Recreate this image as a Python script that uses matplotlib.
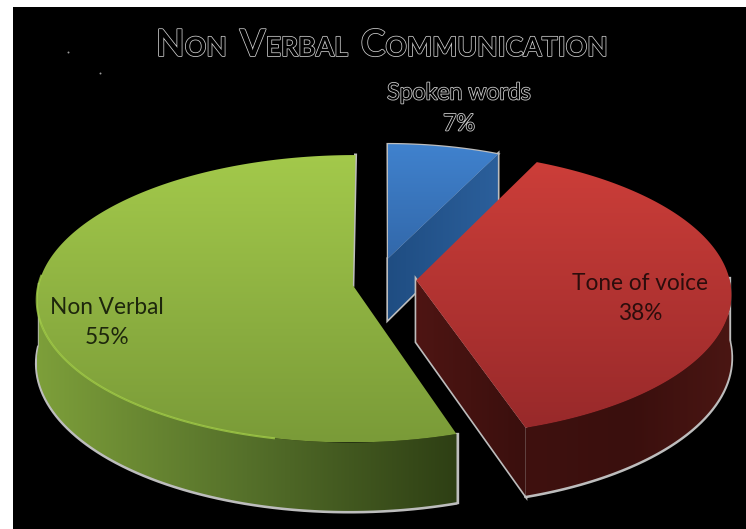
import numpy as np
import matplotlib
matplotlib.use("Agg")
import matplotlib.pyplot as plt
import matplotlib.patheffects as pe
from matplotlib.colors import LinearSegmentedColormap
from matplotlib.patches import Polygon, Rectangle

# chart values, counter-clockwise from twelve o'clock
labels = ["Non Verbal", "Tone of voice", "Spoken words"]
shares = [55, 38, 7]

top_colors = [("#a3c94b", "#7a9b38"), ("#cc3e39", "#98292a"), ("#4082ce", "#3268aa")]
wall_colors = [("#7d9f3a", "#55702a", "#2e3f14"), ("#3f110f", "#3a0f0d", "#4a1613"), None]
face_colors = [None, ("#4e1513", "#3a0f0d"), ("#1f4d82", "#2b5f9b")]

# slice placement on the disc, in units of the disc radius
offset_x = [-0.099, 0.103, 0.013]
offset_y = [-0.016, 0.020, 0.176]
radius = [1.0, 1.0, 0.90]
draw_order = [2, 0, 1]

# view of the disc
CX, CY = 384, 283
A, B = 314, 142
PERSP = 0.0935
THICK = 62
GREY = "#bdbdbd"

plt.rcParams["font.family"] = ["Lato", "DejaVu Sans"]


def project(x, y, z=0.0):
    s = 1.0 / (1.0 + PERSP * np.asarray(y))
    return CX + A * np.asarray(x) * s, CY - B * np.asarray(y) * s + THICK * z * s


def gradient_fill(ax, xs, ys, colors, horizontal, zorder):
    # paint a gradient and clip it to the polygon
    pts = np.column_stack([xs, ys])
    cmap = LinearSegmentedColormap.from_list("g", list(colors))
    ramp = np.linspace(0, 1, 256)
    ramp = ramp[None, :] if horizontal else ramp[:, None]
    extent = (pts[:, 0].min(), pts[:, 0].max(), pts[:, 1].max(), pts[:, 1].min())
    im = ax.imshow(ramp, cmap=cmap, extent=extent, aspect="auto", zorder=zorder,
                   origin="upper", interpolation="bilinear")
    im.set_clip_path(Polygon(pts, closed=True, transform=ax.transData))


def small_caps(ax, fig, words, x, y, big, small, track, zorder):
    # one text per run, advancing by the measured width
    renderer = fig.canvas.get_renderer()
    effects = [pe.withStroke(linewidth=1.1, foreground="#d0d0d0")]
    for word in words:
        for run, size in ((word[0], big), (word[1:].upper(), small)):
            t = ax.text(x, y, run, fontsize=size, color="black", va="baseline", ha="left",
                        fontweight="bold", path_effects=effects, zorder=zorder)
            x = t.get_window_extent(renderer).x1 + track
        x += 13


fig = plt.figure(figsize=(7.46, 5.29), dpi=100)
ax = fig.add_axes([0, 0, 1, 1])
ax.set_xlim(0, 746)
ax.set_ylim(529, 0)
ax.axis("off")

ax.add_patch(Rectangle((13, 7), 733, 522, facecolor="black", edgecolor="none", zorder=0))
ax.plot([68, 100], [52, 73], ls="none", marker="o", ms=1.4, color="#9a9a9a", mew=0, zorder=1)

# slice angles follow the shares
ends = 90 + np.cumsum(shares) / np.sum(shares) * 360
starts = np.r_[90, ends[:-1]]

for layer, i in enumerate(draw_order):
    t0, t1 = np.radians(starts[i]), np.radians(ends[i])
    th = np.linspace(t0, t1, 240)
    ox, oy, r = offset_x[i], offset_y[i], radius[i]
    ex, ey = ox + r * np.cos(th), oy + r * np.sin(th)
    z = 10 + 10 * layer

    # radial cut that faces the viewer
    if face_colors[i] is not None:
        fx = np.array([ox, ox + r * np.cos(t0)])
        fy = np.array([oy, oy + r * np.sin(t0)])
        tx, ty = project(fx, fy, 0)
        bx, by = project(fx, fy, 1)
        qx, qy = np.r_[tx, bx[::-1]], np.r_[ty, by[::-1]]
        ax.add_patch(Polygon(np.column_stack([qx, qy]), closed=True, fill=False,
                             edgecolor=GREY, lw=2.4, zorder=z))
        gradient_fill(ax, qx, qy, face_colors[i], True, z + 1)

    # outer wall, only the part facing front
    if wall_colors[i] is not None:
        front = np.sin(th) <= 0.02
        tx, ty = project(ex[front], ey[front], 0)
        bx, by = project(ex[front], ey[front], 1)
        qx, qy = np.r_[tx, bx[::-1]], np.r_[ty, by[::-1]]
        ax.plot(bx, by + 0.8, color=GREY, lw=2.6, zorder=z, solid_capstyle="round")
        if i == 0:
            ax.plot([tx[0], bx[0]], [ty[0], by[0]], color=GREY, lw=2.4, zorder=z)
        ax.plot([tx[-1], bx[-1]], [ty[-1], by[-1]], color=GREY, lw=2.4, zorder=z)
        gradient_fill(ax, qx, qy, wall_colors[i], True, z + 1)

    # top surface
    sx, sy = project(np.r_[ox, ex], np.r_[oy, ey], 0)
    if i == 2:
        ax.add_patch(Polygon(np.column_stack([sx, sy]), closed=True, fill=False,
                             edgecolor=GREY, lw=1.8, zorder=z))
    if i == 0:
        ax.plot(sx[:2], sy[:2], color=GREY, lw=2.2, zorder=z)
    gradient_fill(ax, sx, sy, top_colors[i], False, z + 2)

    # light rim where the green top meets its wall
    if i == 0:
        keep = (th > np.radians(176)) & (th < np.radians(258))
        hx, hy = project(ex[keep], ey[keep], 0)
        ax.plot(hx, hy, color="#a2cc48", lw=1.5, alpha=0.8, zorder=z + 3)

small_caps(ax, fig, ["Non", "Verbal", "Communication"], 156, 56, 26.8, 19.2, 0.0, 60)

outline = [pe.withStroke(linewidth=1.2, foreground="#c9c9c9")]
ax.text(459, 93, labels[2], ha="center", va="center", fontsize=16.6, color="black",
        path_effects=outline, zorder=60)
ax.text(459, 124, f"{shares[2]}%", ha="center", va="center", fontsize=16.6, color="black",
        path_effects=outline, zorder=60)
ax.text(640, 284, labels[1], ha="center", va="center", fontsize=16.3, color="#2b0d0c", zorder=60)
ax.text(640, 314, f"{shares[1]}%", ha="center", va="center", fontsize=16.3, color="#2b0d0c", zorder=60)
ax.text(107, 307, labels[0], ha="center", va="center", fontsize=16.3, color="#1d260c", zorder=60)
ax.text(107, 337, f"{shares[0]}%", ha="center", va="center", fontsize=16.3, color="#1d260c", zorder=60)

ax.set_xlim(0, 746)
ax.set_ylim(529, 0)
fig.savefig("out.png", dpi=100, facecolor="white")
